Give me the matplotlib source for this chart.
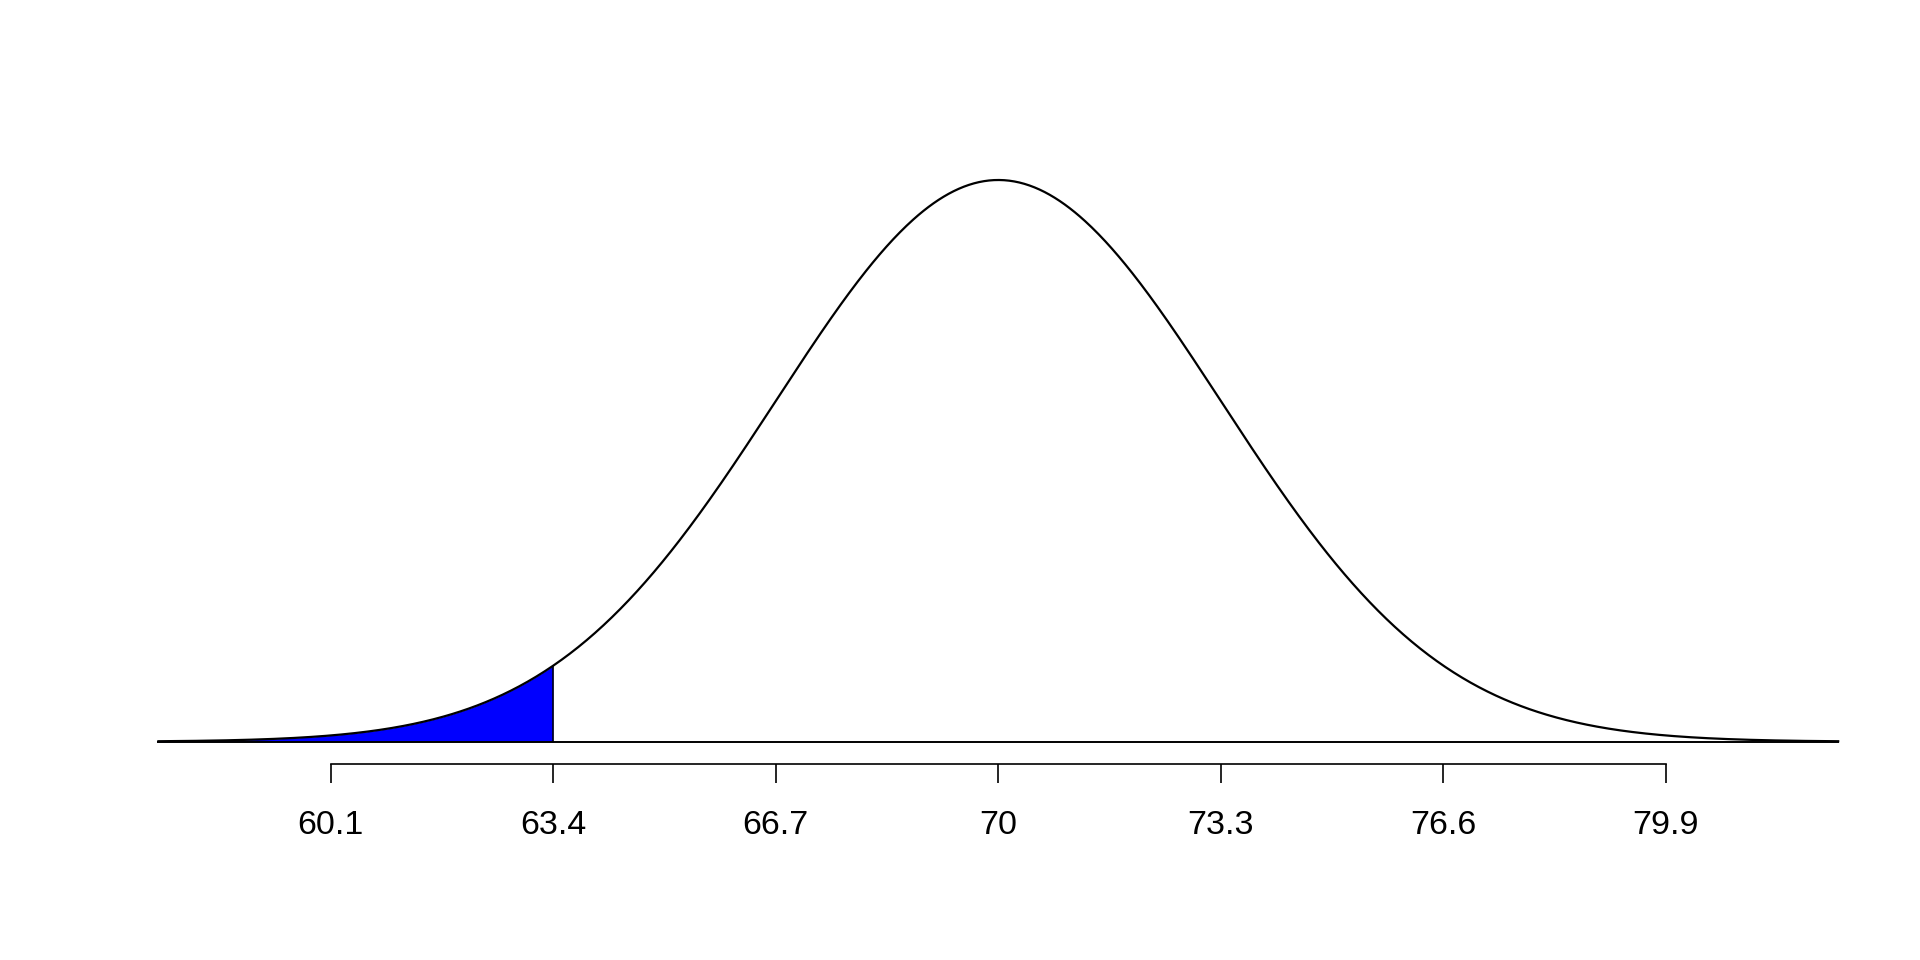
import numpy as np
import matplotlib
matplotlib.use('Agg')
import matplotlib.pyplot as plt

plt.rcParams['font.family'] = ['Liberation Sans', 'DejaVu Sans']

# normal distribution shown in the chart
mu = 70.0
sigma = 3.3
cutoff = 63.4
x_range = [57.53, 82.47]
tick_values = [60.1, 63.4, 66.7, 70, 73.3, 76.6, 79.9]
tick_labels = ['60.1', '63.4', '66.7', '70', '73.3', '76.6', '79.9']

x = np.linspace(x_range[0], x_range[1], 1000)
y = np.exp(-0.5 * ((x - mu) / sigma) ** 2) / (sigma * np.sqrt(2 * np.pi))
peak = 1 / (sigma * np.sqrt(2 * np.pi))

W, H = 1920, 960
fig = plt.figure(figsize=(W / 100, H / 100), dpi=100)
# axes placed so that the curve spans the same pixels as the reference
left, right = 157.3, 1839.3
top, base = 180.0, 741.7
ax = fig.add_axes([left / W, 1 - base / H, (right - left) / W, (base - top) / H])
ax.set_xlim(x_range)
ax.set_ylim(0, peak)

# shaded left tail
xs = x[x <= cutoff]
ys = y[x <= cutoff]
ax.fill_between(xs, 0, ys, color='#0000ff', lw=0, clip_on=False)
ax.plot([cutoff, cutoff], [0, np.interp(cutoff, x, y)], color='black', lw=1.1, clip_on=False)

# curve and baseline
ax.plot(x, y, color='black', lw=1.6, clip_on=False, solid_capstyle='butt')
ax.plot(x_range, [0, 0], color='black', lw=1.4, clip_on=False, solid_capstyle='butt')

# R style axis below the plot
for s in ['top', 'right', 'left']:
    ax.spines[s].set_visible(False)
ax.spines['bottom'].set_position(('outward', 16))
ax.spines['bottom'].set_bounds(tick_values[0], tick_values[-1])
ax.spines['bottom'].set_linewidth(1.2)
ax.set_xticks(tick_values)
ax.set_xticklabels(tick_labels, fontsize=24.5)
ax.tick_params(axis='x', length=13.9, width=1.2, pad=19.5)
ax.set_yticks([])

plt.savefig('out.png', dpi=100)
